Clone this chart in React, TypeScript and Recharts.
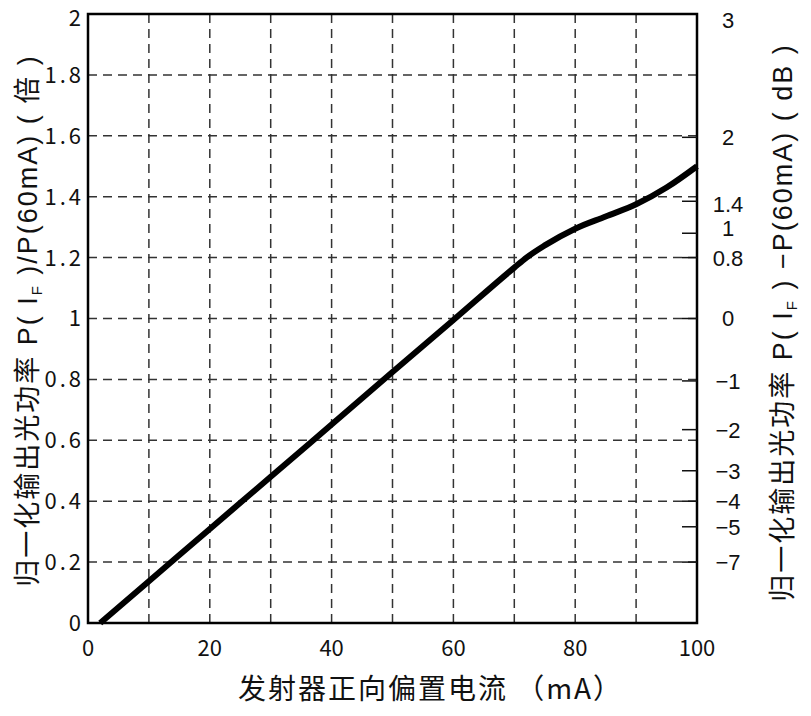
import { CartesianGrid, Label, Line, LineChart, ReferenceArea, XAxis, YAxis } from 'recharts'

// forward bias current (mA) vs normalized optical output power P(IF)/P(60mA)
const currentMa = [2, 10, 20, 30, 40, 50, 60, 70, 72, 75, 80, 85, 90, 95, 100]
const powerRatio = [0, 0.137, 0.309, 0.48, 0.652, 0.824, 0.995, 1.167, 1.2, 1.24, 1.295, 1.335, 1.375, 1.43, 1.5]

const xTicks = [0, 10, 20, 30, 40, 50, 60, 70, 80, 90, 100]
const ratioTicks = [0, 0.2, 0.4, 0.6, 0.8, 1, 1.2, 1.4, 1.6, 1.8, 2]

// right axis: dB labels and where their ticks sit on the ratio scale
const dbLabels = ['3', '2', '1.4', '1', '0.8', '0', '\u22121', '\u22122', '\u22123', '\u22124', '\u22125', '\u22127']
const dbTickRatio = [2, 1.595, 1.385, 1.28, 1.2, 1, 0.795, 0.635, 0.5, 0.4, 0.316, 0.2]

const data = currentMa.map((ma, i) => ({ ma, ratio: powerRatio[i] }))

const FONT = '"Noto Sans CJK SC", "Noto Sans", sans-serif'
const LATIN = '"Liberation Sans", "Noto Sans CJK SC", sans-serif'
const INK = '#111'

const LeftTick = (props: any) => {
  const { x, y, payload } = props
  const shift = payload.value === 2 ? 4 : 0
  return (
    <text x={x} y={y + shift} dy="0.36em" textAnchor="end" fill={INK} fontSize={22} letterSpacing={3} fontFamily={FONT}>
      {String(payload.value)}
    </text>
  )
}

const RightTick = (props: any) => {
  const { x, y, payload } = props
  const i = dbTickRatio.indexOf(payload.value)
  const text = i >= 0 ? dbLabels[i] : ''
  // a few labels sit slightly off their tick marks
  const shift = text === '1' ? -5 : text === '3' ? 6 : text === '1.4' ? 3 : 0
  return (
    <g>
      {text !== '3' && <line x1={x - 15} x2={x} y1={y} y2={y} stroke={INK} strokeWidth={1.5} />}
      <text x={x + 31} y={y + shift} dy="0.36em" textAnchor="middle" fill={INK} fontSize={22} fontFamily={LATIN}>
        {text}
      </text>
    </g>
  )
}

const LeftTitle = (props: any) => {
  const vb = props.viewBox || { x: 0, y: 6, width: 80, height: 609 }
  const cx = vb.x + 20
  const cy = vb.y + vb.height / 2 + 2
  return (
    <text
      x={cx}
      y={cy}
      transform={`rotate(-90 ${cx} ${cy})`}
      textAnchor="middle"
      dy="0.35em"
      fill={INK}
      fontSize={27}
      letterSpacing={2}
      fontFamily={LATIN}
    >
      归一化输出光功率 P( I
      <tspan fontSize={15} dy={5}>F</tspan>
      <tspan dy={-5}> )/P(60mA)  ( 倍 )</tspan>
    </text>
  )
}

const RightTitle = (props: any) => {
  const vb = props.viewBox || { x: 689, y: 6, width: 114, height: 609 }
  const cx = vb.x + 86
  const cy = vb.y + vb.height / 2 + 4
  return (
    <text
      x={cx}
      y={cy}
      transform={`rotate(-90 ${cx} ${cy})`}
      textAnchor="middle"
      dy="0.35em"
      fill={INK}
      fontSize={27}
      letterSpacing={2}
      fontFamily={LATIN}
    >
      归一化输出光功率 P( I
      <tspan fontSize={15} dy={5}>F</tspan>
      <tspan dy={-5}> ) −P(60mA)  ( dB )</tspan>
    </text>
  )
}

const BottomTitle = (props: any) => {
  const vb = props.viewBox || { x: 80, y: 615, width: 609, height: 85 }
  return (
    <text
      x={vb.x + vb.width / 2 + 38}
      y={vb.y + 76}
      textAnchor="middle"
      fill={INK}
      fontSize={28}
      letterSpacing={2}
      fontFamily={FONT}
    >
      发射器正向偏置电流 （mA）
    </text>
  )
}

export default function App() {
  return (
    <div style={{ width: 803, height: 700 }}>
      <LineChart width={803} height={700} data={data} margin={{ top: 6, right: 0, bottom: 0, left: 0 }}>
        <CartesianGrid yAxisId="left" stroke="#333" strokeWidth={1.5} strokeDasharray="9 6" />
        <XAxis
          dataKey="ma"
          type="number"
          domain={[0, 100]}
          ticks={xTicks}
          interval={0}
          height={85}
          axisLine={false}
          tickLine={false}
          tickSize={0}
          tickMargin={17}
          tickFormatter={(v: number) => (v % 20 === 0 ? String(v) : '')}
          tick={{ fill: INK, fontSize: 22, fontFamily: FONT }}
          label={<Label content={BottomTitle} />}
        />
        <YAxis
          yAxisId="left"
          type="number"
          domain={[0, 2]}
          ticks={ratioTicks}
          interval={0}
          width={80}
          axisLine={false}
          tickLine={false}
          tickSize={0}
          tickMargin={4}
          tick={<LeftTick />}
          label={<Label content={LeftTitle} />}
        />
        <YAxis
          yAxisId="right"
          orientation="right"
          type="number"
          domain={[0, 2]}
          allowDataOverflow
          ticks={dbTickRatio}
          interval={0}
          width={114}
          axisLine={false}
          tickLine={false}
          tickSize={0}
          tickMargin={0}
          tick={<RightTick />}
          label={<Label content={RightTitle} />}
        />
        <ReferenceArea
          yAxisId="left"
          x1={0}
          x2={100}
          y1={0}
          y2={2}
          fill="none"
          stroke="#000"
          strokeWidth={2.5}
          ifOverflow="visible"
        />
        <Line
          yAxisId="left"
          type="monotone"
          dataKey="ratio"
          stroke="#000"
          strokeWidth={6}
          dot={false}
          isAnimationActive={false}
        />
      </LineChart>
    </div>
  )
}
